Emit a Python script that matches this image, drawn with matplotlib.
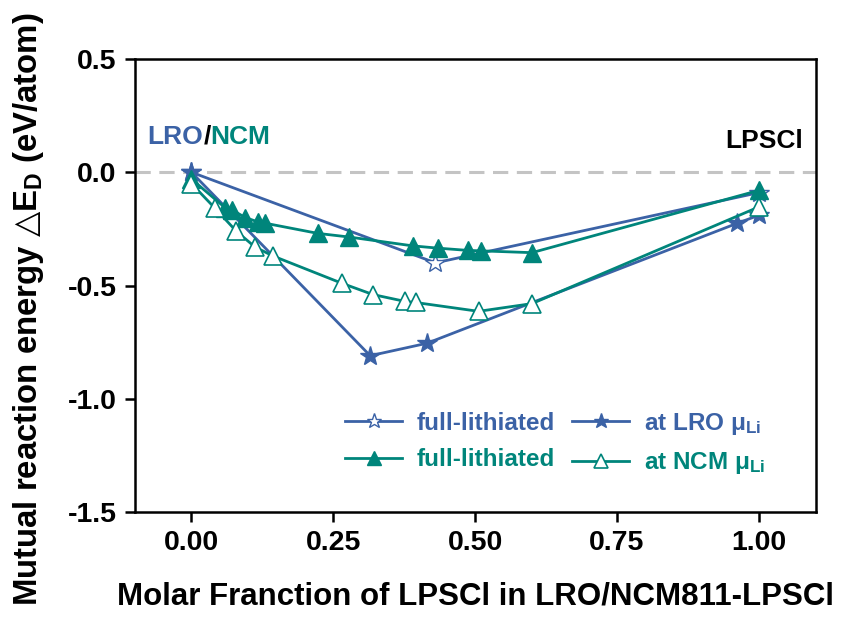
#!/usr/bin/env python3
"""Mutual reaction energy of LRO/NCM811 with LPSCl versus molar fraction."""

import matplotlib
matplotlib.use("Agg")
import matplotlib.pyplot as plt
import matplotlib.ticker as ticker

# ── Data ─────────────────────────────────────────────────────────────────────
# LRO, fully lithiated
x_lro_full = [0.0, 0.43, 1.0]
y_lro_full = [0.0, -0.40, -0.09]

# LRO, at LRO chemical potential of Li
x_lro_mu = [0.0, 0.315, 0.415, 0.962, 1.0]
y_lro_mu = [0.0, -0.81, -0.755, -0.225, -0.19]

# NCM, fully lithiated
x_ncm_full = [0.0, 0.06, 0.072, 0.095, 0.118, 0.13, 0.223, 0.278,
              0.39, 0.434, 0.487, 0.51, 0.60, 1.0]
y_ncm_full = [-0.03, -0.158, -0.167, -0.20, -0.22, -0.225, -0.27, -0.286,
              -0.325, -0.335, -0.345, -0.347, -0.355, -0.08]

# NCM, at NCM chemical potential of Li
x_ncm_mu = [0.0, 0.042, 0.079, 0.112, 0.144, 0.265, 0.32, 0.376,
            0.395, 0.506, 0.60, 1.0]
y_ncm_mu = [-0.05, -0.16, -0.26, -0.33, -0.37, -0.49, -0.54, -0.57,
            -0.575, -0.614, -0.58, -0.153]

x_ticks = [0.00, 0.25, 0.50, 0.75, 1.00]
y_ticks = [0.5, 0.0, -0.5, -1.0, -1.5]

BLUE = "#3B62A6"
TEAL = "#00857B"

# ── Style ────────────────────────────────────────────────────────────────────
plt.rcParams.update({
    "font.family":        ["Liberation Sans", "DejaVu Sans"],
    "font.weight":        "bold",
    "axes.labelweight":   "bold",
    "axes.unicode_minus": False,
    "mathtext.fontset":   "custom",
    "mathtext.rm":        "Liberation Sans:bold",
    "mathtext.bf":        "Liberation Sans:bold",
    "mathtext.it":        "Liberation Sans:bold",
    "mathtext.sf":        "DejaVu Sans",      # used for the thin delta triangle
    "axes.linewidth":     1.8,
})

fig = plt.figure(figsize=(8.47, 6.21), dpi=100)
ax = fig.add_axes([0.159, 0.1755, 0.804, 0.7295])

ax.axhline(0, color="#C4C4C4", lw=2.2, ls=(0, (5, 2.8)), zorder=1)

kw = dict(lw=2.0, zorder=3)
h1, = ax.plot(x_lro_full, y_lro_full, color=BLUE, marker="*", markersize=15,
              markerfacecolor="white", markeredgecolor=BLUE,
              markeredgewidth=1.0, label="full-lithiated", **kw)
h3, = ax.plot(x_lro_mu, y_lro_mu, color=BLUE, marker="*", markersize=15,
              markerfacecolor=BLUE, markeredgecolor=BLUE,
              label=r"at LRO μ$_{\mathrm{Li}}$", **kw)
h2, = ax.plot(x_ncm_full, y_ncm_full, color=TEAL, marker="^", markersize=13,
              markerfacecolor=TEAL, markeredgecolor=TEAL,
              label="full-lithiated", **kw)
h4, = ax.plot(x_ncm_mu, y_ncm_mu, color=TEAL, marker="^", markersize=13,
              markerfacecolor="white", markeredgecolor=TEAL,
              markeredgewidth=1.2, label=r"at NCM μ$_{\mathrm{Li}}$", **kw)

# ── Axes ─────────────────────────────────────────────────────────────────────
ax.set_xlim(-0.1, 1.1)
ax.set_ylim(-1.5, 0.5)
ax.set_xticks(x_ticks)
ax.set_yticks(y_ticks)
ax.xaxis.set_major_formatter(ticker.FormatStrFormatter("%.2f"))
ax.yaxis.set_major_formatter(ticker.FormatStrFormatter("%.1f"))
ax.tick_params(direction="out", length=7, width=1.8, labelsize=20.5, pad=6)
for lab in ax.get_xticklabels() + ax.get_yticklabels():
    lab.set_fontweight("bold")

ax.set_xlabel("Molar Franction of LPSCl in LRO/NCM811-LPSCl",
              fontsize=22.5, labelpad=18)
ax.set_ylabel(r"Mutual reaction energy $\mathsf{△}$E$_{\mathrm{D}}$ (eV/atom)",
              fontsize=23.7)
ax.yaxis.set_label_coords(-0.13, 0.448)

# ── Annotations ──────────────────────────────────────────────────────────────
t_lro = ax.text(0.019, 0.828, "LRO", color=BLUE, fontsize=19,
                fontweight="bold", transform=ax.transAxes,
                ha="left", va="center")
t_sl = ax.annotate("/", xy=(1, 0.5), xycoords=t_lro, xytext=(0, 0),
                   textcoords="offset points", color="black", fontsize=19,
                   fontweight="bold", ha="left", va="center")
ax.annotate("NCM", xy=(1, 0.5), xycoords=t_sl, xytext=(0, 0),
            textcoords="offset points", color=TEAL, fontsize=19,
            fontweight="bold", ha="left", va="center")
ax.text(0.981, 0.819, "LPSCl", color="black", fontsize=19, fontweight="bold",
        transform=ax.transAxes, ha="right", va="center")

leg = ax.legend(handles=[h1, h2, h3, h4], ncol=2, loc="lower left",
                bbox_to_anchor=(0.295, 0.058), frameon=False, fontsize=17.5,
                handlelength=2.35, handletextpad=0.6, columnspacing=0.7,
                labelspacing=0.55, borderaxespad=0, markerscale=0.75)
for txt, col in zip(leg.get_texts(), [BLUE, TEAL, BLUE, TEAL]):
    txt.set_color(col)
    txt.set_fontweight("bold")

fig.savefig("out.png", dpi=100, facecolor="white")
plt.close(fig)
